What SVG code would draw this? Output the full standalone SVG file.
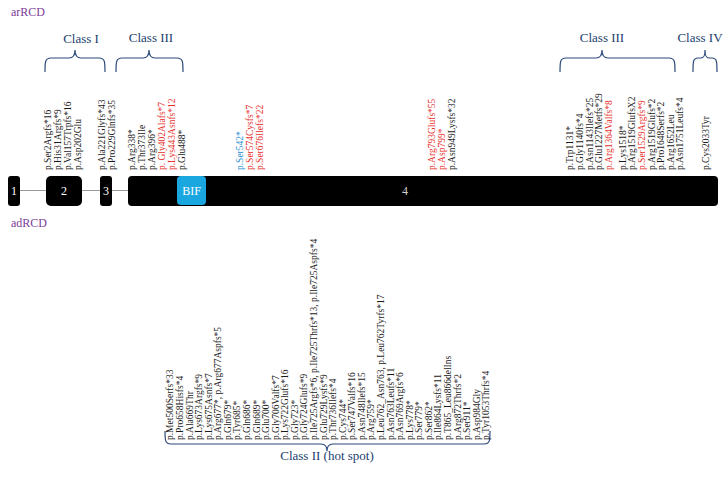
<svg xmlns="http://www.w3.org/2000/svg" width="727" height="490" viewBox="0 0 727 490">
<style>
.lbl{font-family:"Liberation Serif","Times New Roman",serif;font-size:9.5px;fill:#1a1a1a}
.red{fill:#e8302a}
.blue{fill:#2b8fd1}
.cls{font-family:"Liberation Serif","Times New Roman",serif;font-size:13px;fill:#22406e;text-anchor:middle}
.grp{font-family:"Liberation Serif","Times New Roman",serif;font-size:12px;fill:#7a3d98}
.brace{fill:none;stroke:#2c4a7a;stroke-width:1.2}
.exon{fill:#000}
.num{font-family:"Liberation Serif","Times New Roman",serif;font-size:12px;fill:#fff;text-anchor:middle}
</style>
<rect width="727" height="490" fill="#fff"/>
<text class="grp" x="11" y="16">arRCD</text>
<text class="grp" x="11" y="227">adRCD</text>

<g id="connectors">
<line x1="20" y1="190.5" x2="128" y2="190.5" stroke="#9a9a9a" stroke-width="1"/>
</g>

<g id="exon1"><rect class="exon" x="8" y="176" width="12" height="30" rx="3"/><text class="num" x="14" y="195">1</text></g>
<g id="exon2"><rect class="exon" x="46" y="176" width="36" height="30" rx="5"/><text class="num" x="64" y="195">2</text></g>
<g id="exon3"><rect class="exon" x="100" y="176" width="12" height="30" rx="3"/><text class="num" x="106" y="195">3</text></g>
<g id="exon4"><rect class="exon" x="128" y="176" width="590" height="30" rx="4"/><text class="num" x="405" y="195" style="fill:#cfcfcf">4</text></g>
<g id="bif"><rect x="177" y="176" width="29" height="29" rx="4" fill="#1aa7e0"/><text class="num" x="191.5" y="195">BIF</text></g>

<g id="classI"><text class="cls" x="81" y="43">Class I</text>
<path class="brace" d="M45,72 C45,62 45,58 51,58 L69,58 C73,58 75,56 75,50 C75,56 77,58 81,58 L99,58 C105,58 105,62 105,72"/></g>
<g id="classIIIa"><text class="cls" x="151" y="42">Class III</text>
<path class="brace" d="M116,72 C116,62 116,58 122,58 L143,58 C147,58 149,56 149,50 C149,56 151,58 155,58 L177,58 C183,58 183,62 183,72"/></g>
<g id="classIIIb"><text class="cls" x="602" y="42">Class III</text>
<path class="brace" d="M560,72 C560,62 560,58 566,58 L596,58 C600,58 602,56 602,50 C602,56 604,58 608,58 L669,58 C675,58 675,62 675,72"/></g>
<g id="classIV"><text class="cls" x="700" y="42">Class IV</text>
<path class="brace" d="M693,72 C693,62 693,58 698,58 L701,58 C704,58 705,56 705,50 C705,56 706,58 709,58 L712,58 C717,58 717,62 717,72"/></g>
<g id="classII"><text class="cls" x="327" y="460">Class II (hot spot)</text>
<path class="brace" d="M165,431 C165,440 165,444 171,444 L321,444 C325,444 327,446 327,451 C327,446 329,444 333,444 L484,444 C490,444 490,440 490,431"/></g>

<g id="top-labels">
<text class="lbl" transform="translate(51.3,170) rotate(-90)">p.Ser2Argfs*16</text>
<text class="lbl" transform="translate(61.3,170) rotate(-90)">p.His31Argfs*9</text>
<text class="lbl" transform="translate(71.3,170) rotate(-90)">p.Val157Trpfs*16</text>
<text class="lbl" transform="translate(81.3,170) rotate(-90)">p.Asp202Glu</text>
<text class="lbl" transform="translate(105.3,170) rotate(-90)">p.Ala221Glyfs*43</text>
<text class="lbl" transform="translate(115.3,170) rotate(-90)">p.Pro229Glnfs*35</text>
<text class="lbl" transform="translate(135.3,170) rotate(-90)">p.Arg338*</text>
<text class="lbl" transform="translate(145.3,170) rotate(-90)">p.Thr373Ile</text>
<text class="lbl" transform="translate(155.3,170) rotate(-90)">p.Arg396*</text>
<text class="lbl red" transform="translate(165.3,170) rotate(-90)">p. Gly402Alafs*7</text>
<text class="lbl red" transform="translate(175.3,170) rotate(-90)">p.Lys443Asnfs*12</text>
<text class="lbl" transform="translate(185.3,170) rotate(-90)">p.Glu488*</text>
<text class="lbl blue" transform="translate(243.3,170) rotate(-90)">p.Ser542*</text>
<text class="lbl red" transform="translate(253.3,170) rotate(-90)">p.Ser574Cysfs*7</text>
<text class="lbl red" transform="translate(263.3,170) rotate(-90)">p.Ser676Ilefs*22</text>
<text class="lbl red" transform="translate(435.3,170) rotate(-90)">p.Arg793Glufs*55</text>
<text class="lbl red" transform="translate(445.3,170) rotate(-90)">p.Asp799*</text>
<text class="lbl" transform="translate(455.3,170) rotate(-90)">p.Asn949Lysfs*32</text>
<text class="lbl" transform="translate(573.3,170) rotate(-90)">p.Trp1131*</text>
<text class="lbl" transform="translate(582.9,170) rotate(-90)">p.Gly1140fs*4</text>
<text class="lbl" transform="translate(592.5,170) rotate(-90)">p.Asn1143Ilefs*25</text>
<text class="lbl" transform="translate(602.1,170) rotate(-90)">p.Glu1227Metfs*29</text>
<text class="lbl red" transform="translate(611.7,170) rotate(-90)">p.Arg1364Valfs*8</text>
<text class="lbl" transform="translate(625.7,170) rotate(-90)">p.Lys1518*</text>
<text class="lbl" transform="translate(635.3,170) rotate(-90)">p.Arg1519GlufsX2</text>
<text class="lbl red" transform="translate(644.9,170) rotate(-90)">p.Ser1529Argfs*9</text>
<text class="lbl" transform="translate(654.5,170) rotate(-90)">p.Arg1519Glufs*2</text>
<text class="lbl" transform="translate(664.1,170) rotate(-90)">p.Pro1648Serfs*2</text>
<text class="lbl" transform="translate(673.7,170) rotate(-90)">p.Arg1652Leu</text>
<text class="lbl" transform="translate(683.3,170) rotate(-90)">p.Asn1751Leufs*4</text>
<text class="lbl" transform="translate(708.8,170) rotate(-90)">p.Cys2033Tyr</text>
</g>

<g id="bottom-labels">
<text class="lbl" transform="translate(173.3,440) rotate(-90)">p.Met500Serfs*33</text>
<text class="lbl" transform="translate(182.9,440) rotate(-90)">p.Pro658Hisfs*4</text>
<text class="lbl" transform="translate(192.5,440) rotate(-90)">p.Ala669Thr</text>
<text class="lbl" transform="translate(202.0,440) rotate(-90)">p.Lys673Argfs*9</text>
<text class="lbl" transform="translate(211.6,440) rotate(-90)">p.Lys675Asnfs*7</text>
<text class="lbl" transform="translate(221.2,440) rotate(-90)">p.Arg677*, p.Arg677Aspfs*5</text>
<text class="lbl" transform="translate(230.8,440) rotate(-90)">p.Gln679*</text>
<text class="lbl" transform="translate(240.3,440) rotate(-90)">p.Tyr685*</text>
<text class="lbl" transform="translate(249.9,440) rotate(-90)">p.Gln686*</text>
<text class="lbl" transform="translate(259.5,440) rotate(-90)">p.Gln689*</text>
<text class="lbl" transform="translate(269.1,440) rotate(-90)">p.Glu700*</text>
<text class="lbl" transform="translate(278.6,440) rotate(-90)">p.Gly706Valfs*7</text>
<text class="lbl" transform="translate(288.2,440) rotate(-90)">p.Lys722Glufs*16</text>
<text class="lbl" transform="translate(297.8,440) rotate(-90)">p.Gly723*</text>
<text class="lbl" transform="translate(307.4,440) rotate(-90)">p.Gly724Glufs*9</text>
<text class="lbl" transform="translate(316.9,440) rotate(-90)">p.Ile725Argfs*6, p.Ile725Thrfs*13, p.Ile725Aspfs*4</text>
<text class="lbl" transform="translate(326.5,440) rotate(-90)">p.Glu729Lysfs*9</text>
<text class="lbl" transform="translate(336.1,440) rotate(-90)">p.Thr736Ilefs*4</text>
<text class="lbl" transform="translate(345.7,440) rotate(-90)">p.Cys744*</text>
<text class="lbl" transform="translate(355.2,440) rotate(-90)">p.Ser747Valfs*16</text>
<text class="lbl" transform="translate(364.8,440) rotate(-90)">p.Asn748Ilefs*15</text>
<text class="lbl" transform="translate(374.4,440) rotate(-90)">p.Arg759*</text>
<text class="lbl" transform="translate(384.0,440) rotate(-90)">p.Leu762_Asn763, p.Leu762Tyrfs*17</text>
<text class="lbl" transform="translate(393.5,440) rotate(-90)">p.Asn763Leufs*11</text>
<text class="lbl" transform="translate(403.1,440) rotate(-90)">p.Asn769Argfs*6</text>
<text class="lbl" transform="translate(412.7,440) rotate(-90)">p.Lys778*</text>
<text class="lbl" transform="translate(422.3,440) rotate(-90)">p.Ser779*</text>
<text class="lbl" transform="translate(431.8,440) rotate(-90)">p.Ser862*</text>
<text class="lbl" transform="translate(441.4,440) rotate(-90)">p.Ile864Lysfs*11</text>
<text class="lbl" transform="translate(451.0,440) rotate(-90)">p.T865_Leu866delIns</text>
<text class="lbl" transform="translate(460.6,440) rotate(-90)">p.Arg872Thrfs*2</text>
<text class="lbl" transform="translate(470.1,440) rotate(-90)">p.Ser911*</text>
<text class="lbl" transform="translate(479.7,440) rotate(-90)">p.Asp984Gly</text>
<text class="lbl" transform="translate(489.3,440) rotate(-90)">p.Tyr1053Thrfs*4</text>
</g>
</svg>
